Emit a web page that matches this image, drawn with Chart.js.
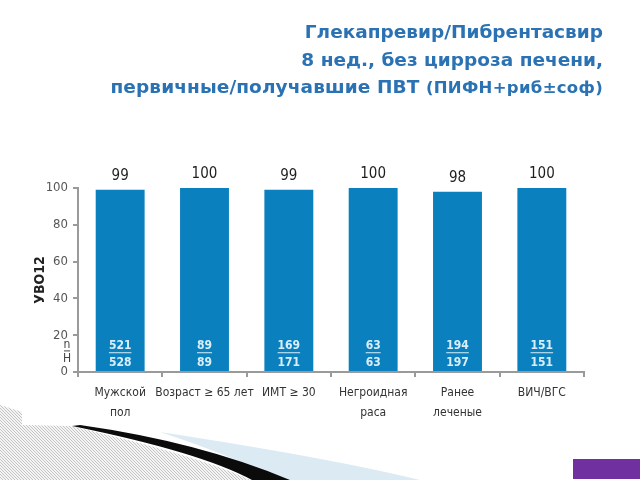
<!DOCTYPE html>
<html>
<head>
<meta charset="utf-8">
<script src="https://cdn.jsdelivr.net/npm/chart.js@4.4.1/dist/chart.umd.min.js"></script>
<style>
  html, body { margin: 0; padding: 0; background: #fff; }
  #wrap { position: relative; width: 640px; height: 480px; overflow: hidden; }
  #title {
    position: absolute; right: 37px; top: 18px; text-align: right;
    font-family: "DejaVu Sans", sans-serif; font-weight: bold; font-size: 18.5px;
    line-height: 27.5px; color: #2a72b3; z-index: 2;
  }
  #title .l3 { letter-spacing: 0.1px; }
  #title .small { font-size: 16.5px; letter-spacing: 0.3px; }
  canvas { position: absolute; left: 0; top: 0; }
</style>
</head>
<body>
<div id="wrap">
  <div id="title">
    Глекапревир/Пибрентасвир<br>
    8 нед., без цирроза печени,<br>
    <span class="l3">первичные/получавшие ПВТ</span> <span class="small">(ПИФН+риб±соф)</span>
  </div>
  <canvas id="chart" width="640" height="480"></canvas>
</div>
<script>
const categories = [['Мужской', 'пол'], 'Возраст ≥ 65 лет', 'ИМТ ≥ 30', ['Негроидная', 'раса'], ['Ранее', 'леченые'], 'ВИЧ/ВГС'];
const svr12 = [99, 100, 99, 100, 98, 100];
const responders = [521, 89, 169, 63, 194, 151];
const totals = [528, 89, 171, 63, 197, 151];
const yTicks = [0, 20, 40, 60, 80, 100];

const narrow = '"DejaVu Sans Condensed", "Roboto Condensed", Roboto, sans-serif';

// background decorations of the slide
const slideDecor = {
  id: 'slideDecor',
  beforeDraw(chart) {
    const c = chart.ctx;
    c.save();
    // striped grey corner
    c.beginPath();
    c.moveTo(0, 405); c.lineTo(22, 412); c.lineTo(22, 425); c.lineTo(70, 426);
    c.quadraticCurveTo(200, 456, 250, 480); c.lineTo(0, 480); c.closePath();
    c.fillStyle = '#f4f4f4'; c.fill();
    c.clip();
    c.strokeStyle = '#c4c4c4'; c.lineWidth = 1;
    for (let i = -200; i < 400; i += 3) {
      c.beginPath(); c.moveTo(i, 400); c.lineTo(i + 80, 480); c.stroke();
    }
    c.restore();
    c.save();
    // light blue wedge
    c.beginPath();
    c.moveTo(160, 432); c.quadraticCurveTo(330, 458, 420, 480); c.lineTo(280, 480);
    c.quadraticCurveTo(230, 455, 160, 432); c.closePath();
    c.fillStyle = '#dcebf3'; c.fill();
    // black swoosh
    c.beginPath();
    c.moveTo(80, 425); c.quadraticCurveTo(200, 442, 290, 480); c.lineTo(252, 480);
    c.quadraticCurveTo(200, 452, 72, 426); c.closePath();
    c.fillStyle = '#0b0b0b'; c.fill();
    // purple button
    c.fillStyle = '#7030a0';
    c.fillRect(573, 459, 67, 20);
    c.restore();
  }
};

// values above bars, n/N inside bars
const barLabels = {
  id: 'barLabels',
  afterDatasetsDraw(chart) {
    const c = chart.ctx;
    const meta = chart.getDatasetMeta(0);
    const y = chart.scales.y;
    c.save();
    c.textAlign = 'center';
    c.textBaseline = 'middle';
    meta.data.forEach((bar, i) => {
      c.fillStyle = '#1e1e1e';
      c.font = '15px ' + narrow;
      c.fillText(String(svr12[i]), bar.x, bar.y - 14);
      c.fillStyle = '#d9eef9';
      c.font = 'bold 12px ' + narrow;
      const yn = y.getPixelForValue(14);
      const yd = y.getPixelForValue(5);
      const t = String(responders[i]);
      c.fillText(t, bar.x, yn);
      const w = c.measureText(t).width;
      c.fillRect(bar.x - w / 2, yn + 6, w, 1);
      c.fillText(String(totals[i]), bar.x, yd);
    });
    // n / Н key on the axis
    c.fillStyle = '#444';
    c.font = '12px ' + narrow;
    const kx = chart.chartArea.left - 11;
    const kn = y.getPixelForValue(15);
    c.fillText('n', kx, kn);
    c.fillRect(kx - 3, kn + 6, 6, 1);
    c.fillText('Н', kx, y.getPixelForValue(7));
    c.restore();
  }
};

new Chart(document.getElementById('chart'), {
  type: 'bar',
  data: {
    labels: categories,
    datasets: [{
      data: svr12,
      backgroundColor: '#0a80be',
      barPercentage: 0.58,
      categoryPercentage: 1
    }]
  },
  options: {
    responsive: false,
    animation: false,
    layout: { padding: { left: 20, right: 56, top: 188, bottom: 58 } },
    plugins: { legend: { display: false }, tooltip: { enabled: false } },
    scales: {
      x: {
        offset: true,
        grid: { offset: true, drawOnChartArea: false, drawTicks: true, tickLength: 5, color: '#9a9a9a', lineWidth: 2 },
        border: { color: '#9a9a9a', width: 2 },
        ticks: { color: '#333', font: { family: narrow, size: 12, lineHeight: 1.65 }, padding: 6, maxRotation: 0, autoSkip: false },
        afterFit(s) { s.height = 50; }
      },
      y: {
        min: 0, max: 100,
        afterBuildTicks(s) { s.ticks = yTicks.map(v => ({ value: v })); },
        grid: { drawOnChartArea: false, drawTicks: true, tickLength: 5, color: '#9a9a9a', lineWidth: 2 },
        border: { color: '#9a9a9a', width: 2 },
        ticks: { color: '#555', font: { family: narrow, size: 13 }, padding: 5 },
        title: { display: true, text: 'УВО12', color: '#222', font: { family: narrow, size: 14, weight: 'bold' }, padding: { top: 12, bottom: 0 } },
        afterFit(s) { s.width = 58; }
      }
    }
  },
  plugins: [slideDecor, barLabels]
});
</script>
</body>
</html>
